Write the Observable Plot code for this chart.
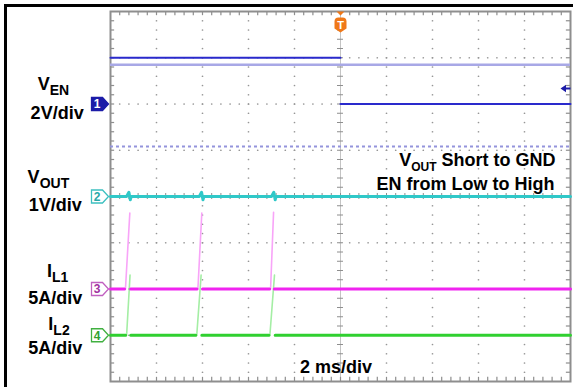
<!DOCTYPE html>
<html><head><meta charset="utf-8">
<script src="https://cdn.jsdelivr.net/npm/d3@7"></script>
<script src="https://cdn.jsdelivr.net/npm/@observablehq/plot@0.6"></script>
<style>
body{margin:0;background:#fff;}
#wrap{position:relative;width:573px;height:387px;overflow:hidden;background:#fff;}
#wrap svg{position:absolute;left:0;top:0;}
#frame{position:absolute;left:4px;top:4px;right:0;bottom:0;border-left:3px solid #000;border-top:3px solid #000;pointer-events:none;z-index:2;}
text{white-space:pre;}
</style></head><body>
<div id="wrap"><div id="frame"></div></div>
<script>
// ---------------- data ----------------
const timePerDiv = 2;                       // ms/div
const channels = ["1", "2", "3", "4"];
const channelOffsets = [2, 0, -2, -3];      // ground marker positions (div)
const channelScales = [2, 1, 5, 5];         // V/div, V/div, A/div, A/div
// V_EN (V)
const venTime = [-10, 0, 0, 10];
const venVolt = [2, 2, 0, 0];
const venSeg  = [0, 0, 1, 1];
// reference traces / trigger level (div)
const refSolidDiv = 2.85;
const refDashDiv = 1.08;
const trigLevelDiv = 2.335;
// V_OUT (V)
const voutTime = [-10, -9.3, -9.2, -9.14, -9.1, -6.14, -6.04, -5.98, -5.94, -3.0, -2.9, -2.84, -2.8, 10];
const voutVolt = [0, 0, 0.09, -0.07, 0, 0, 0.09, -0.07, 0, 0, 0.09, -0.07, 0, 0];
// I_L1 hiccup pulses (ms, A)
const il1Start = [-9.35, -6.2, -3.04];
const il1PeakTime = [-9.16, -6.03, -2.91];
const il1Peak = [8.2, 8.2, 8.3];
// I_L2 hiccup pulses (ms, A)
const il2Start = [-9.3, -6.25, -3.07];
const il2PeakTime = [-9.15, -6.06, -2.87];
const il2Peak = [6.5, 6.5, 6.5];
// texts
const leftLabels = ["V_{EN}", "2V/div", "V_{OUT}", "1V/div", "I_{L1}", "5A/div", "I_{L2}", "5A/div"];
const notes = ["V_{OUT} Short to GND", "EN from Low to High"];
const timeLabel = "2 ms/div";

// ---------------- helpers ----------------
const X = t => t / timePerDiv;
const Y = (ch, v) => channelOffsets[ch] + v / channelScales[ch];

function baseline(ch, starts, peaks) {
  const pts = [{x: X(-10), y: Y(ch, 0)}];
  starts.forEach((s, i) => {
    pts.push({x: X(s - 0.04), y: Y(ch, 0)});
    pts.push({x: X(s), y: NaN});
    pts.push({x: X(peaks[i] + 0.03), y: Y(ch, 0)});
  });
  pts.push({x: X(10), y: Y(ch, 0)});
  return pts;
}
function spikes(ch, starts, peaks, amps) {
  const pts = [];
  starts.forEach((s, i) => {
    pts.push({x: X(s), y: Y(ch, 0), z: i});
    pts.push({x: X(peaks[i]), y: Y(ch, amps[i]), z: i});
  });
  return pts;
}

const venData = venTime.map((t, i) => ({x: X(t), y: Y(0, venVolt[i]), z: venSeg[i]}));
const voutData = voutTime.map((t, i) => ({x: X(t), y: Y(1, voutVolt[i])}));

// grid decoration
const gridDots = [];
for (const k of [-4, -3, -2, -1, 1, 2, 3, 4]) for (let j = 1; j < 40; j++) gridDots.push({x: k, y: -4 + j * 0.2});
for (const k of [-3, -2, -1, 1, 2, 3]) for (let j = 1; j < 50; j++) gridDots.push({x: -5 + j * 0.2, y: k});
const xt = d3.range(1, 50).map(j => -5 + j * 0.2);
const yt = d3.range(1, 40).map(j => -4 + j * 0.2);

const gridGray = "#8e8e8e";
const font = "Liberation Sans, Arial, Helvetica, sans-serif";

// symbols
const markerSym = {draw(c) { c.moveTo(-19, -6.5); c.lineTo(-8, -6.5); c.lineTo(-2, 0); c.lineTo(-8, 6.5); c.lineTo(-19, 6.5); c.closePath(); }};
const trigSym = {draw(c) {
  c.moveTo(-4, 0); c.lineTo(4, 0); c.lineTo(0, 4); c.closePath();
  c.moveTo(-6, 10); c.quadraticCurveTo(-6, 6, -2, 6); c.lineTo(2, 6); c.quadraticCurveTo(6, 6, 6, 10);
  c.lineTo(6, 17); c.lineTo(0, 21); c.lineTo(-6, 17); c.closePath();
}};
const arrowSym = {draw(c) {
  c.moveTo(-10, 0); c.lineTo(-4.5, -3.8); c.lineTo(-4.5, -1.1); c.lineTo(0, -1.1); c.lineTo(0, 1.1);
  c.lineTo(-4.5, 1.1); c.lineTo(-4.5, 3.8); c.closePath();
}};

const chStyle = [
  {fill: "#1c1ca8", stroke: "#1c1ca8", text: "#ffffff"},
  {fill: "#ffffff", stroke: "#3cc0c0", text: "#2aa8a8"},
  {fill: "#ffffff", stroke: "#c060c0", text: "#a030a0"},
  {fill: "#ffffff", stroke: "#40b040", text: "#30a030"}
];

const leftLayout = [
  {x: -6.24, y: 2.292}, {x: -6.16, y: 1.686}, {x: -6.35, y: 0.298}, {x: -6.2, y: -0.303},
  {x: -6.15, y: -1.751}, {x: -6.2, y: -2.314}, {x: -6.12, y: -2.897}, {x: -6.2, y: -3.395}
];
const noteLayout = [{x: 4.674, y: 0.670}, {x: 4.652, y: 0.130}];

const marks = [
  // grid
  Plot.dot(gridDots, {x: "x", y: "y", r: 0.85, fill: "#969696"}),
  Plot.ruleX([0], {stroke: "#c4c4c4", strokeWidth: 1}),
  Plot.ruleY([0], {stroke: "#c4c4c4", strokeWidth: 1}),
  Plot.ruleX(xt, {x: d => d, y1: -0.065, y2: 0.065, stroke: gridGray, strokeWidth: 1}),
  Plot.ruleY(yt, {y: d => d, x1: -0.065, x2: 0.065, stroke: gridGray, strokeWidth: 1}),
  Plot.ruleX(xt, {x: d => d, y1: 4, y2: 3.91, stroke: gridGray, strokeWidth: 1.2}),
  Plot.ruleX(xt, {x: d => d, y1: -4, y2: -3.91, stroke: gridGray, strokeWidth: 1.2}),
  Plot.ruleY(yt, {y: d => d, x1: -5, x2: -4.91, stroke: gridGray, strokeWidth: 1.2}),
  Plot.ruleY(yt, {y: d => d, x1: 5, x2: 4.91, stroke: gridGray, strokeWidth: 1.2}),
  Plot.frame({stroke: gridGray, strokeWidth: 2}),
  // references
  Plot.ruleY([refSolidDiv], {stroke: "#a8a8e6", strokeWidth: 2.5}),
  Plot.ruleY([refDashDiv], {stroke: "#9494dc", strokeWidth: 2, strokeDasharray: "3,3"}),
  // traces
  Plot.line(venData, {x: "x", y: "y", z: "z", stroke: "#2a2acc", strokeWidth: 2}),
  Plot.line(voutData, {x: "x", y: "y", stroke: "#30c8c8", strokeWidth: 3, curve: "linear"}),
  Plot.line(spikes(2, il1Start, il1PeakTime, il1Peak), {x: "x", y: "y", z: "z", stroke: "#f8a4f8", strokeWidth: 1.6}),
  Plot.line(spikes(3, il2Start, il2PeakTime, il2Peak), {x: "x", y: "y", z: "z", stroke: "#a4eea4", strokeWidth: 1.6}),
  Plot.line(baseline(2, il1Start, il1PeakTime), {x: "x", y: "y", stroke: "#f024f0", strokeWidth: 3}),
  Plot.line(baseline(3, il2Start, il2PeakTime), {x: "x", y: "y", stroke: "#30d030", strokeWidth: 3}),
  // channel markers
  ...channels.flatMap((c, i) => [
    Plot.dot([c], {x: -5, y: channelOffsets[i], symbol: markerSym, fill: chStyle[i].fill, stroke: chStyle[i].stroke, strokeWidth: 1.3}),
    Plot.text([c], {x: -5, y: channelOffsets[i], text: d => d, dx: -13.5, dy: 0.5, fill: chStyle[i].text, fontSize: 12, fontWeight: "bold", fontFamily: font})
  ]),
  // trigger position and level
  Plot.dot(["T"], {x: 0, y: 4, symbol: trigSym, fill: "#f07818", stroke: "none"}),
  Plot.text(["T"], {x: 0, y: 4, text: d => d, dy: 14, fill: "#ffffff", fontSize: 11, fontWeight: "bold", fontFamily: font}),
  Plot.dot([trigLevelDiv], {x: 5, y: d => d, symbol: arrowSym, fill: "#1c1ca8", stroke: "none"}),
  // labels
  Plot.text(leftLabels, {x: (d, i) => leftLayout[i].x, y: (d, i) => leftLayout[i].y, text: d => d, lineAnchor: "bottom", fontSize: 18, fontWeight: "bold", fontFamily: font, fill: "#000"}),
  Plot.text(notes, {x: (d, i) => noteLayout[i].x, y: (d, i) => noteLayout[i].y, text: d => d, textAnchor: "end", lineAnchor: "bottom", fontSize: 18, fontWeight: "bold", fontFamily: font, fill: "#000"}),
  Plot.text([timeLabel], {x: -0.098, y: -3.827, text: d => d, lineAnchor: "bottom", fontSize: 18, fontWeight: "bold", fontFamily: font, fill: "#000"})
];

const svg = Plot.plot({
  width: 573, height: 387,
  marginLeft: 110, marginRight: 3, marginTop: 11, marginBottom: 6,
  x: {domain: [-5, 5], axis: null},
  y: {domain: [-4, 4], axis: null},
  style: {background: "transparent", fontFamily: font, overflow: "visible"},
  marks
});

// subscripts
const NS = "http://www.w3.org/2000/svg";
svg.querySelectorAll("text").forEach(el => {
  const t = el.textContent;
  if (!t.includes("_{")) return;
  const subSize = notes.includes(t) ? 12 : 14;
  el.textContent = "";
  const re = /_\{([^}]*)\}/g;
  let last = 0, m, lowered = false;
  const add = (s, sub) => {
    if (!s) return;
    const ts = document.createElementNS(NS, "tspan");
    ts.textContent = s;
    if (sub) { ts.setAttribute("font-size", subSize); ts.setAttribute("dy", 5); lowered = true; }
    else if (lowered) { ts.setAttribute("dy", -5); lowered = false; }
    el.appendChild(ts);
  };
  while ((m = re.exec(t))) { add(t.slice(last, m.index), false); add(m[1], true); last = re.lastIndex; }
  add(t.slice(last), false);
});

document.getElementById("wrap").appendChild(svg);
</script>
</body></html>
